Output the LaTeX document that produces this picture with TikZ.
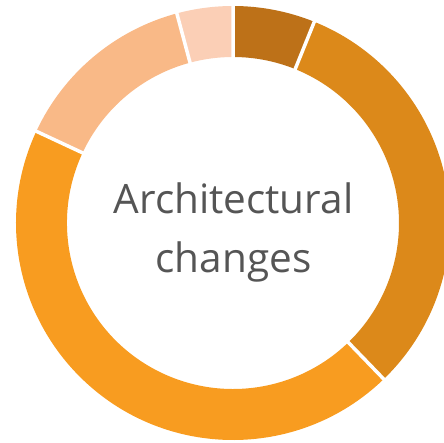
\documentclass[tikz,border=0pt]{standalone}
\usepackage{fontspec}
\setmainfont{Open Sans}
\definecolor{slicebrown}{RGB}{189,113,24}
\definecolor{sliceamber}{RGB}{220,137,26}
\definecolor{sliceorange}{RGB}{248,156,32}
\definecolor{slicesand}{RGB}{249,185,135}
\definecolor{slicepeach}{RGB}{251,207,182}
\definecolor{labelgray}{RGB}{85,85,85}
\tikzset{
  gap/.style={draw=white,line width=3.5pt},
  caption/.style={text=labelgray,anchor=base,inner sep=0pt,font=\fontsize{40.5}{59}\selectfont}
}
\begin{document}
\begin{tikzpicture}[x=1pt,y=1pt]
\useasboundingbox (-233,-219) rectangle (211,223);
% slices, clockwise from the top
\fill[slicebrown] (90:217) arc[start angle=90,end angle=68,radius=217]
  -- (68:166) arc[start angle=68,end angle=90,radius=166] -- cycle;
\fill[sliceamber] (68:217) arc[start angle=68,end angle=-46,radius=217]
  -- (-46:166) arc[start angle=-46,end angle=68,radius=166] -- cycle;
\fill[sliceorange] (-46:217) arc[start angle=-46,end angle=-205,radius=217]
  -- (-205:166) arc[start angle=-205,end angle=-46,radius=166] -- cycle;
\fill[slicesand] (155:217) arc[start angle=155,end angle=105,radius=217]
  -- (105:166) arc[start angle=105,end angle=155,radius=166] -- cycle;
\fill[slicepeach] (105:217) arc[start angle=105,end angle=90,radius=217]
  -- (90:166) arc[start angle=90,end angle=105,radius=166] -- cycle;
% white gaps
\draw[gap] (90:160) -- (90:225) (68:160) -- (68:225) (-46:160) -- (-46:225)
  (155:160) -- (155:225) (105:160) -- (105:225);
% label
\node[caption] (title) at (0.5,10) {Architectural};
\node[caption] (subtitle) at (0.5,-49) {changes};
\end{tikzpicture}
\end{document}
